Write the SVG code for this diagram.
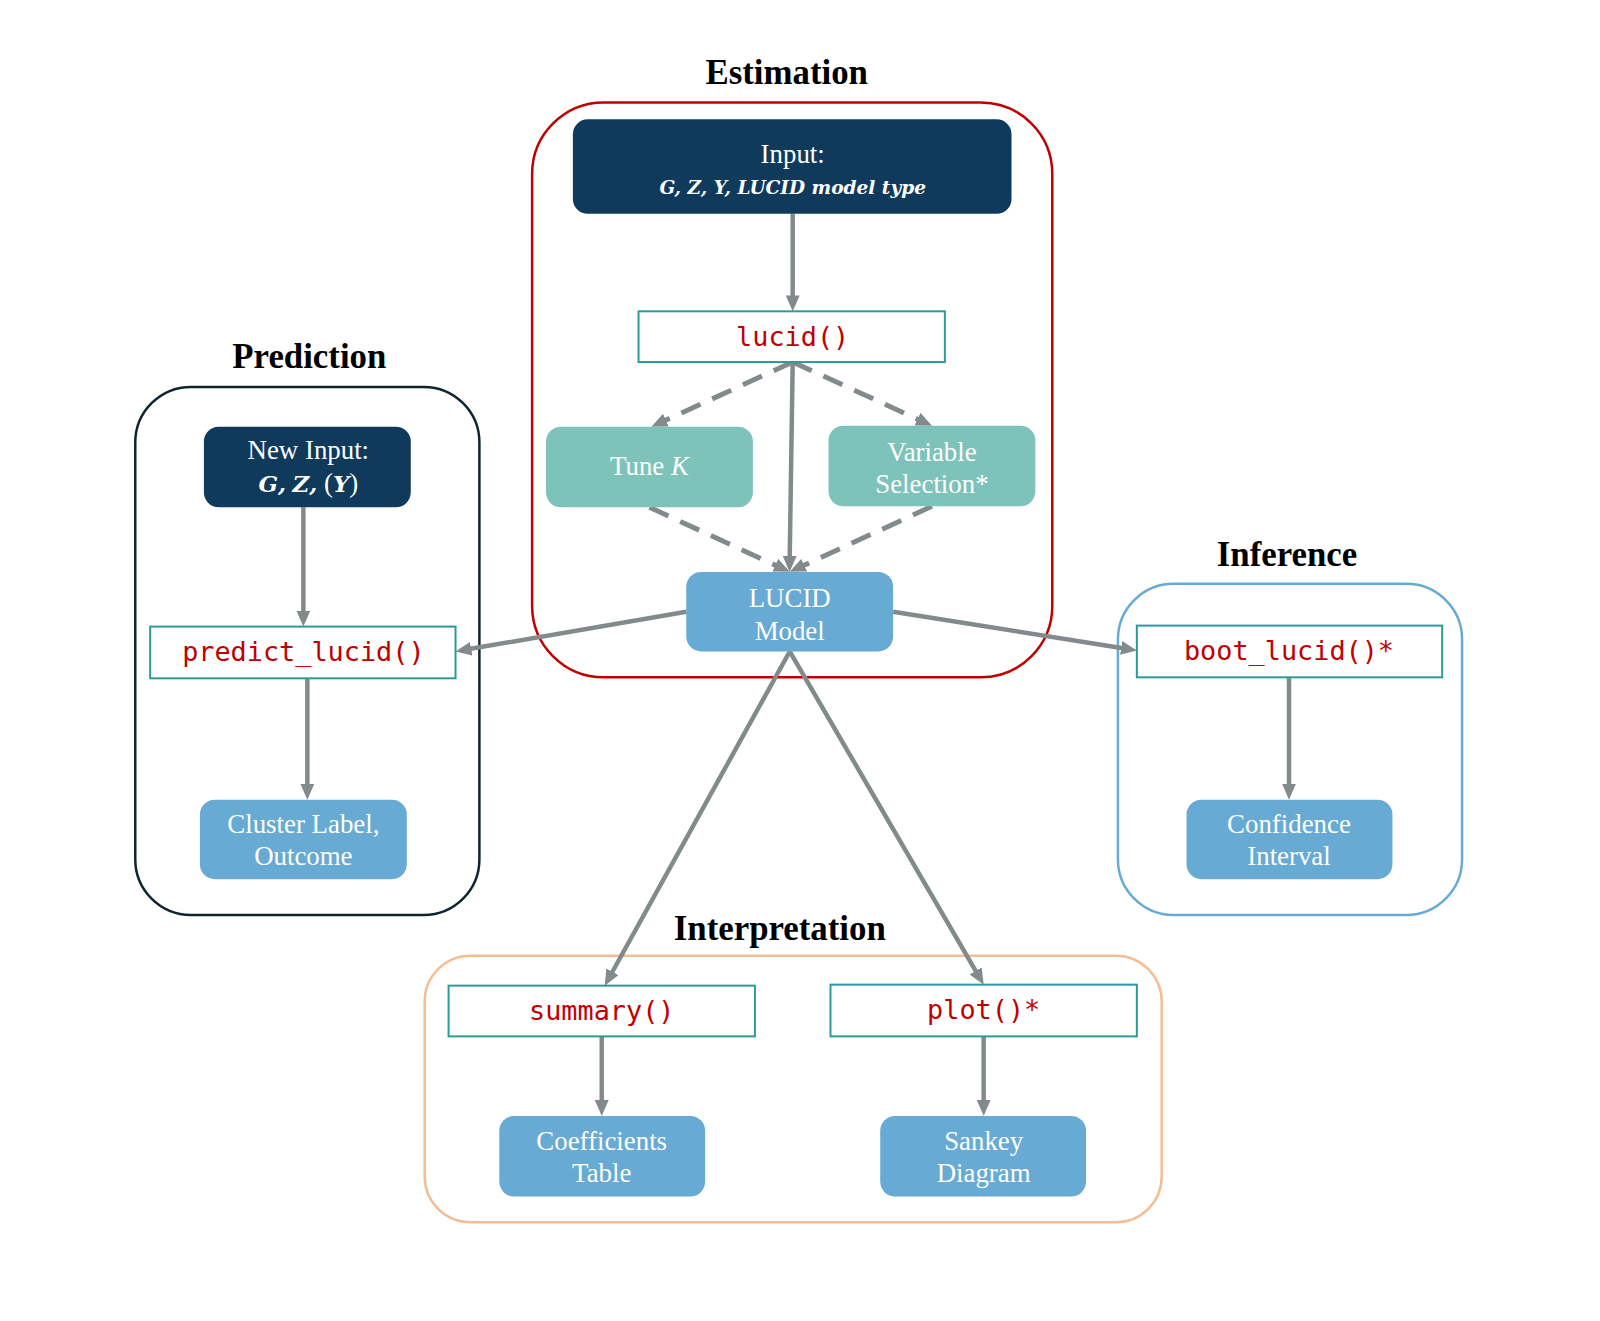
<svg xmlns="http://www.w3.org/2000/svg" width="1600" height="1321" viewBox="0 0 1600 1321">
<style>
.title{font-family:"Liberation Serif",serif;font-weight:bold;font-size:35px;fill:#000;text-anchor:middle}
.grp{fill:none;stroke-width:2.5}
.navy{fill:#103A5C}
.teal{fill:#7DC3BA}
.blue{fill:#67AAD3}
.fn{fill:#fff;stroke:#2A9A9A;stroke-width:2}
.lbl{font-family:"Liberation Serif",serif;font-size:27px;fill:#fff;text-anchor:middle}
.code{font-family:"DejaVu Sans Mono","Liberation Mono",monospace;font-size:27px;fill:#C00000;text-anchor:middle}
.math{font-family:"DejaVu Serif","Liberation Serif",serif;font-weight:bold;font-style:italic;fill:#fff;text-anchor:middle}
.mi{font-family:"DejaVu Serif","Liberation Serif",serif;font-weight:bold;font-style:italic;font-size:23px}
.con{stroke:#828A8C;stroke-width:4.5;fill:none;marker-end:url(#ah)}
.dash{stroke-dasharray:21 13;stroke-width:5}
</style>
<defs>
<marker id="ah" markerUnits="userSpaceOnUse" viewBox="0 0 16 14" markerWidth="16" markerHeight="14" refX="2" refY="7" orient="auto">
<path d="M0,0 L16,7 L0,14 z" fill="#828A8C"/>
</marker>
</defs>
<rect width="1600" height="1321" fill="#fff"/>
<g id="diagram" transform="scale(0.9946)">
<g id="estimation-group">
<rect class="grp" x="535" y="103" width="523" height="578" rx="72" stroke="#C00000"/>
<text class="title" x="791" y="84">Estimation</text>
</g>
<g id="prediction-group">
<rect class="grp" x="136" y="389" width="346" height="531" rx="56" stroke="#0D2530"/>
<text class="title" x="311" y="370">Prediction</text>
</g>
<g id="inference-group">
<rect class="grp" x="1124" y="587" width="346" height="333" rx="56" stroke="#67AAD3"/>
<text class="title" x="1294" y="569">Inference</text>
</g>
<g id="interpretation-group">
<rect class="grp" x="427" y="961" width="741" height="268" rx="46" stroke="#F4BE94"/>
<text class="title" x="784" y="945">Interpretation</text>
</g>

<g id="connectors">
<line class="con" x1="797" y1="215" x2="797" y2="299"/>
<line class="con" x1="797" y1="364" x2="794" y2="561"/>
<line class="con dash" x1="797" y1="364" x2="667.7" y2="423.2"/>
<line class="con dash" x1="797" y1="364" x2="924.3" y2="422.2"/>
<line class="con dash" x1="653" y1="510" x2="781.3" y2="569.1"/>
<line class="con dash" x1="937" y1="509" x2="806.7" y2="569.1"/>
<line class="con" x1="690" y1="615" x2="471.8" y2="652.6"/>
<line class="con" x1="898" y1="615" x2="1129.2" y2="651.8"/>
<line class="con" x1="794" y1="655" x2="614.8" y2="978.8"/>
<line class="con" x1="794" y1="655" x2="982" y2="977.9"/>
<line class="con" x1="305" y1="510" x2="305" y2="616"/>
<line class="con" x1="309" y1="682" x2="309" y2="790"/>
<line class="con" x1="1296" y1="681" x2="1296" y2="790"/>
<line class="con" x1="605" y1="1042" x2="605" y2="1108"/>
<line class="con" x1="989" y1="1042" x2="989" y2="1108"/>
</g>

<g id="input">
<rect class="navy" x="576" y="120" width="441" height="95" rx="15"/>
<text class="lbl" x="797" y="164" font-size="26">Input:</text>
<text class="math" x="797" y="195" font-size="19.5" textLength="268" lengthAdjust="spacingAndGlyphs">G, Z, Y, LUCID model type</text>
</g>
<g id="lucid">
<rect class="fn" x="642" y="313" width="308" height="51"/>
<text class="code" x="797" y="348">lucid()</text>
</g>
<g id="tune-k">
<rect class="teal" x="549" y="429" width="208" height="81" rx="15"/>
<text class="lbl" x="653" y="478">Tune <tspan font-style="italic">K</tspan></text>
</g>
<g id="variable-selection">
<rect class="teal" x="833" y="428" width="208" height="81" rx="15"/>
<text class="lbl" x="937" y="464">Variable</text>
<text class="lbl" x="937" y="496">Selection*</text>
</g>
<g id="lucid-model">
<rect class="blue" x="690" y="575" width="208" height="80" rx="15"/>
<text class="lbl" x="794" y="610">LUCID</text>
<text class="lbl" x="794" y="643">Model</text>
</g>

<g id="new-input">
<rect class="navy" x="205" y="429" width="208" height="81" rx="15"/>
<text class="lbl" x="310" y="462" font-size="26">New Input:</text>
<text class="lbl" x="310" y="495" font-size="27"><tspan class="mi">G</tspan><tspan class="mi">,</tspan> <tspan class="mi">Z</tspan><tspan class="mi">,</tspan> (<tspan class="mi">Y</tspan>)</text>
</g>
<g id="predict-lucid">
<rect class="fn" x="151" y="630" width="307" height="52"/>
<text class="code" x="305" y="665">predict_lucid()</text>
</g>
<g id="cluster-label">
<rect class="blue" x="201" y="804" width="208" height="80" rx="15"/>
<text class="lbl" x="305" y="838">Cluster Label,</text>
<text class="lbl" x="305" y="870">Outcome</text>
</g>

<g id="boot-lucid">
<rect class="fn" x="1143" y="629" width="307" height="52"/>
<text class="code" x="1296" y="664">boot_lucid()*</text>
</g>
<g id="confidence-interval">
<rect class="blue" x="1193" y="804" width="207" height="80" rx="15"/>
<text class="lbl" x="1296" y="838">Confidence</text>
<text class="lbl" x="1296" y="870">Interval</text>
</g>

<g id="summary">
<rect class="fn" x="451" y="991" width="308" height="51"/>
<text class="code" x="605" y="1026">summary()</text>
</g>
<g id="plot">
<rect class="fn" x="835" y="990" width="308" height="52"/>
<text class="code" x="989" y="1025">plot()*</text>
</g>
<g id="coefficients-table">
<rect class="blue" x="502" y="1122" width="207" height="81" rx="15"/>
<text class="lbl" x="605" y="1156">Coefficients</text>
<text class="lbl" x="605" y="1188">Table</text>
</g>
<g id="sankey-diagram">
<rect class="blue" x="885" y="1122" width="207" height="81" rx="15"/>
<text class="lbl" x="989" y="1156">Sankey</text>
<text class="lbl" x="989" y="1188">Diagram</text>
</g>
</g>
</svg>
